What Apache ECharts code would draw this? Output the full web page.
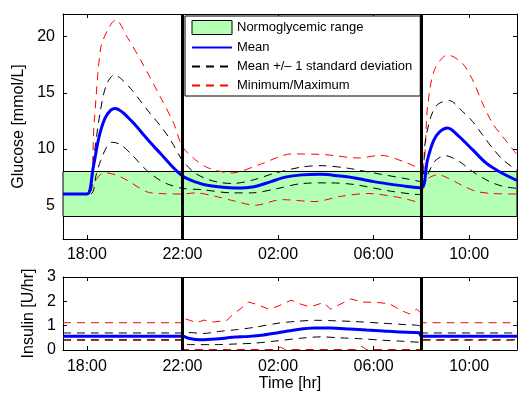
<!DOCTYPE html>
<html>
<head>
<meta charset="utf-8">
<script src="https://cdn.jsdelivr.net/npm/echarts@6/dist/echarts.min.js"></script>
<style>html,body{margin:0;padding:0;background:#fff}#c{width:518px;height:394px}</style>
</head>
<body>
<div id="c"></div>
<script>
// Hours of day; values past 24 are the next morning
const tickHours = [18, 22, 26, 30, 34];
const phaseBoundaries = [22, 32];
const glucoseTicks = [5, 10, 15, 20];
const normoRange = [4, 8];

const glucoseMean = [[17,6.0],[18.0,6.0],[18.25,8.2],[18.5,11.0],[18.75,12.7],[19.0,13.45],[19.2,13.6],[19.5,13.25],[19.7,12.85],[20.0,12.2],[20.4,11.2],[20.75,10.35],[21.1,9.55],[21.5,8.6],[22.0,7.6],[22.5,7.1],[23.1,6.75],[24.2,6.54],[25.0,6.65],[25.7,7.1],[26.3,7.5],[27.0,7.7],[27.8,7.75],[28.5,7.62],[29.2,7.43],[30.0,7.1],[30.6,6.9],[31.3,6.7],[32.0,6.55],[32.25,9.0],[32.5,10.7],[32.75,11.5],[33.1,11.86],[33.58,11.1],[34.14,9.94],[34.7,8.76],[35.25,8.0],[36,7.2]];
const glucoseUpperSD = [[17,6.0],[18.05,6.0],[18.3,9.5],[18.55,13.2],[18.8,15.6],[19.14,16.6],[19.4,16.3],[19.9,15.2],[20.3,14.1],[20.67,13.1],[21.1,12.0],[21.5,10.8],[21.9,9.3],[22.0,8.95],[22.5,7.9],[23.0,7.35],[23.5,7.05],[24.1,6.93],[24.9,7.22],[25.9,7.87],[27.0,8.4],[27.8,8.52],[28.9,8.3],[30.0,7.87],[31.4,7.34],[32.0,7.1],[32.15,10.5],[32.4,12.9],[32.7,14.0],[33.17,14.3],[33.72,13.34],[34.14,12.45],[34.55,11.27],[34.97,10.1],[35.4,9.06],[36,8.1]];
const glucoseLowerSD = [[17,6.0],[18.15,6.0],[18.4,7.8],[18.58,9.0],[18.86,10.3],[19.07,10.6],[19.4,10.4],[19.83,9.6],[20.5,8.1],[21.0,7.3],[21.36,6.9],[22.0,6.5],[22.8,6.39],[24.07,6.1],[24.9,6.1],[25.9,6.45],[27.0,6.93],[28.1,6.99],[29.2,6.84],[30.74,6.24],[32.0,5.95],[32.1,6.6],[32.3,7.9],[32.6,9.0],[33.0,9.4],[33.58,8.9],[34.14,8.0],[34.83,7.13],[35.4,6.69],[36,6.5]];
const glucoseMax = [[17,6.0],[18.05,6.0],[18.3,12.2],[18.58,19.0],[18.9,20.7],[19.21,21.5],[19.7,19.9],[20.25,17.9],[21.08,14.6],[21.64,12.25],[22.0,10.2],[22.54,9.05],[23.1,8.3],[24.07,7.87],[25.2,8.6],[26.57,9.56],[27.96,9.5],[29.35,9.2],[30.3,9.44],[31.4,8.76],[32.0,8.2],[32.26,13.8],[32.54,17.0],[33.1,18.37],[33.72,17.6],[34.14,16.15],[34.55,14.1],[34.97,12.3],[35.4,11.1],[36,9.5]];
const glucoseMin = [[17,6.0],[18.05,6.0],[18.3,7.0],[18.72,7.9],[19.2,7.7],[19.7,7.2],[20.5,6.2],[21.1,6.04],[22.0,6.0],[22.54,6.1],[23.37,5.8],[24.2,5.36],[25.04,5.0],[26.15,5.5],[27.54,5.33],[28.65,5.8],[29.76,6.04],[31.17,5.65],[32.0,5.2],[32.1,7.0],[32.7,7.72],[33.1,7.43],[33.72,6.75],[34.28,6.24],[34.97,6.04],[36,6.0]];

const insulinMean = [[17,0.56],[22.0,0.56],[22.3,0.47],[22.75,0.42],[23.4,0.45],[24.1,0.52],[24.8,0.56],[25.4,0.62],[26.0,0.71],[26.7,0.82],[27.5,0.9],[28.2,0.9],[29.0,0.86],[29.7,0.82],[30.4,0.78],[31.1,0.74],[31.9,0.71],[32.0,0.56],[36,0.56]];
const insulinUpperSD = [[17,0.70],[22.0,0.70],[22.2,0.72],[22.9,0.68],[23.5,0.76],[24.3,0.84],[25.0,0.93],[26.0,1.1],[26.8,1.18],[27.6,1.22],[28.4,1.2],[29.2,1.17],[30.4,1.1],[31.2,1.05],[31.95,0.98],[32.0,0.70],[36,0.70]];
const insulinLowerSD = [[17,0.42],[22.0,0.42],[22.15,0.25],[22.33,0.22],[23.3,0.22],[24.3,0.25],[25.0,0.28],[26.0,0.38],[26.9,0.48],[27.8,0.54],[28.6,0.5],[29.5,0.46],[30.4,0.4],[31.2,0.36],[31.95,0.32],[32.0,0.42],[36,0.42]];
const insulinMax = [[17,1.12],[22.0,1.12],[22.05,1.3],[22.3,1.22],[22.6,1.12],[22.9,1.23],[23.3,1.15],[23.86,1.22],[24.1,1.45],[24.5,1.75],[24.76,1.97],[25.1,1.88],[25.6,1.68],[26.0,1.8],[26.55,2.05],[26.9,1.9],[27.3,1.78],[27.5,1.82],[27.9,1.95],[28.2,1.68],[28.6,1.88],[29.05,2.1],[29.5,1.97],[30.1,1.96],[30.67,1.9],[31.1,1.65],[31.5,1.48],[31.8,1.68],[31.95,1.55],[32.0,1.12],[36,1.12]];
const insulinMin = [[17,0.40],[22.0,0.40],[22.05,0.02],[25.9,0.02],[26.1,0.12],[26.3,0.02],[29.3,0.02],[29.5,0.15],[29.7,0.02],[32.0,0.02],[32.05,0.40],[36,0.40]];

const NAMES = ['Normoglycemic range', 'Mean', 'Mean +/\u2013 1 standard deviation', 'Minimum/Maximum'];
const FONT = '"Liberation Sans", Arial, Helvetica, sans-serif';

function fmt(h) { const v = ((h % 24) + 24) % 24; return (v < 10 ? '0' : '') + v + ':00'; }

function xAxes(gridIndex, withName) {
  const common = { type: 'value', gridIndex, min: 17, max: 36, splitLine: { show: false },
    axisLine: { show: true, onZero: false, lineStyle: { color: '#000', width: 1 } } };
  return [
    Object.assign({}, common, {
      position: 'bottom',
      axisTick: { show: true, inside: true, length: 4, customValues: tickHours, lineStyle: { color: '#000' } },
      axisLabel: { show: true, customValues: tickHours, formatter: fmt, color: '#000', fontSize: 16, fontFamily: FONT, margin: withName ? 9 : 8 },
      name: withName ? 'Time [hr]' : '', nameLocation: 'middle', nameGap: 26,
      nameTextStyle: { color: '#000', fontSize: 16, fontFamily: FONT }
    }),
    Object.assign({}, common, {
      position: 'top',
      axisTick: { show: true, inside: true, length: 4, customValues: tickHours, lineStyle: { color: '#000' } },
      axisLabel: { show: false }
    })
  ];
}

function yAxes(gridIndex, min, max, ticks, name, gap, margin) {
  const common = { type: 'value', gridIndex, min, max, splitLine: { show: false },
    axisLine: { show: true, onZero: false, lineStyle: { color: '#000', width: 1 } } };
  return [
    Object.assign({}, common, {
      position: 'left',
      axisTick: { show: true, inside: true, length: 4, customValues: ticks, lineStyle: { color: '#000' } },
      axisLabel: { show: true, customValues: ticks, color: '#000', fontSize: 16, fontFamily: FONT, margin },
      name, nameLocation: 'middle', nameGap: gap,
      nameTextStyle: { color: '#000', fontSize: 16, fontFamily: FONT }
    }),
    Object.assign({}, common, {
      position: 'right',
      axisTick: { show: true, inside: true, length: 4, customValues: ticks, lineStyle: { color: '#000' } },
      axisLabel: { show: false }
    })
  ];
}

function line(name, data, xi, yi, style, extra) {
  return Object.assign({
    type: 'line', name, data, xAxisIndex: xi, yAxisIndex: yi,
    showSymbol: false, symbol: 'none', smooth: 0.3, silent: true, animation: false,
    color: style.color, lineStyle: style
  }, extra || {});
}

const meanStyle = { color: '#0000ff', width: 3, type: 'solid' };
const sdStyle = { color: '#000000', width: 1, type: [8, 6] };
const mmStyle = { color: '#ff0000', width: 1, type: [8, 6] };

function boundaryLines() {
  return {
    silent: true, symbol: ['none', 'none'], animation: false,
    label: { show: false },
    lineStyle: { color: '#000', width: 3, type: 'solid' },
    data: phaseBoundaries.map(v => ({ xAxis: v }))
  };
}

const chart = echarts.init(document.getElementById('c'));
chart.setOption({
  animation: false,
  backgroundColor: '#fff',
  textStyle: { fontFamily: FONT },
  grid: [
    { left: 63, top: 14, width: 454, height: 225 },
    { left: 63, top: 277, width: 454, height: 73 }
  ],
  xAxis: [...xAxes(0, false), ...xAxes(1, true)],
  yAxis: [
    ...yAxes(0, 2, 22, glucoseTicks, 'Glucose [mmol/L]', 31, 8),
    ...yAxes(1, 0, 3, [0, 1, 2, 3], 'Insulin [U/hr]', 20, 7)
  ],
  legend: {
    left: 185, top: 16, orient: 'vertical',
    itemWidth: 40, itemHeight: 14, itemGap: 6,
    padding: [4, 8, 4, 6],
    backgroundColor: '#fff', borderColor: '#000', borderWidth: 1, borderRadius: 0,
    textStyle: { color: '#000', fontSize: 13, fontFamily: FONT },
    selectedMode: false,
    itemStyle: { opacity: 0 },
    data: [
      { name: NAMES[0], icon: 'rect', itemStyle: { color: '#b3ffb3', borderColor: '#000', borderWidth: 1, opacity: 1 } },
      { name: NAMES[1] },
      { name: NAMES[2] },
      { name: NAMES[3] }
    ]
  },
  series: [
    {
      type: 'line', name: NAMES[0], data: [], xAxisIndex: 0, yAxisIndex: 0, color: '#b3ffb3',
      symbol: 'none', silent: true,
      markArea: {
        silent: true,
        itemStyle: { color: '#b3ffb3', borderColor: '#000', borderWidth: 1 },
        data: [[{ yAxis: normoRange[0] }, { yAxis: normoRange[1] }]]
      },
      z: 1
    },
    line(NAMES[3], glucoseMax, 0, 0, mmStyle),
    line(NAMES[3], glucoseMin, 0, 0, mmStyle),
    line(NAMES[2], glucoseUpperSD, 0, 0, sdStyle),
    line(NAMES[2], glucoseLowerSD, 0, 0, sdStyle),
    line(NAMES[1], glucoseMean, 0, 0, meanStyle, { markLine: boundaryLines() }),
    line(NAMES[3], insulinMax, 2, 2, mmStyle, { smooth: false }),
    line(NAMES[3], insulinMin, 2, 2, mmStyle, { smooth: false }),
    line(NAMES[2], insulinUpperSD, 2, 2, sdStyle, { smooth: 0.3 }),
    line(NAMES[2], insulinLowerSD, 2, 2, sdStyle, { smooth: 0.3 }),
    line(NAMES[1], insulinMean, 2, 2, meanStyle, { smooth: 0.3, markLine: boundaryLines() })
  ]
});
</script>
</body>
</html>
